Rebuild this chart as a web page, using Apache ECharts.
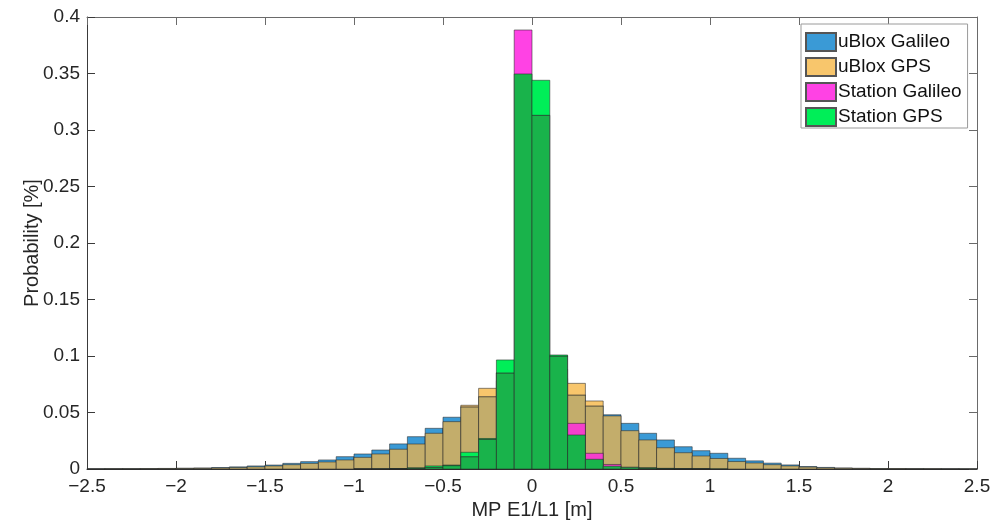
<!DOCTYPE html>
<html>
<head>
<meta charset="utf-8">
<script src="https://cdn.jsdelivr.net/npm/echarts@6/dist/echarts.min.js"></script>
<style>
  html, body { margin: 0; padding: 0; background: #ffffff; }
  #chart { width: 1002px; height: 529px; }
</style>
</head>
<body>
<div id="chart"></div>
<script>
// Histogram bins: left edges, width 0.1 m
const binLeft = [
  -2.5, -2.4, -2.3, -2.2, -2.1, -2.0, -1.9, -1.8, -1.7, -1.6,
  -1.5, -1.4, -1.3, -1.2, -1.1, -1.0, -0.9, -0.8, -0.7, -0.6,
  -0.5, -0.4, -0.3, -0.2, -0.1, 0.0, 0.1, 0.2, 0.3, 0.4,
  0.5, 0.6, 0.7, 0.8, 0.9, 1.0, 1.1, 1.2, 1.3, 1.4,
  1.5, 1.6, 1.7, 1.8, 1.9, 2.0, 2.1, 2.2, 2.3, 2.4
];
const binWidth = 0.1;

const seriesNames = ['uBlox Galileo', 'uBlox GPS', 'Station Galileo', 'Station GPS'];

const uBloxGalileo = [
  0.0002, 0.0003, 0.0003, 0.0004, 0.0005, 0.0007, 0.0009, 0.0013, 0.0019, 0.0027,
  0.0035, 0.0050, 0.0065, 0.0080, 0.0109, 0.0133, 0.0168, 0.0222, 0.0286, 0.0360,
  0.0458, 0.0550, 0.0640, 0.0780, 0.0880, 0.0890, 0.0800, 0.0655, 0.0558, 0.0480,
  0.0404, 0.0316, 0.0257, 0.0197, 0.0162, 0.0139, 0.0095, 0.0072, 0.0052, 0.0036,
  0.0022, 0.0014, 0.0009, 0.0006, 0.0004, 0.0003, 0.0003, 0.0002, 0.0002, 0.0001
];
const uBloxGPS = [
  0.0001, 0.0002, 0.0002, 0.0003, 0.0004, 0.0005, 0.0006, 0.0009, 0.0013, 0.0019,
  0.0027, 0.0038, 0.0050, 0.0062, 0.0080, 0.0103, 0.0133, 0.0175, 0.0221, 0.0316,
  0.0419, 0.0564, 0.0714, 0.0850, 0.0950, 0.0950, 0.0880, 0.0758, 0.0602, 0.0470,
  0.0339, 0.0257, 0.0188, 0.0144, 0.0115, 0.0093, 0.0066, 0.0053, 0.0038, 0.0027,
  0.0017, 0.0010, 0.0007, 0.0005, 0.0003, 0.0003, 0.0002, 0.0002, 0.0001, 0.0001
];
const stationGalileo = [
  0, 0, 0, 0, 0, 0, 0, 0, 0, 0,
  0, 0, 0, 0, 0, 0.0001, 0.0002, 0.0003, 0.0006, 0.0015,
  0.0030, 0.0109, 0.0262, 0.0850, 0.3885, 0.3130, 0.1000, 0.0404, 0.0139, 0.0040,
  0.0015, 0.0007, 0.0004, 0.0002, 0.0001, 0, 0, 0, 0, 0,
  0, 0, 0, 0, 0, 0, 0, 0, 0, 0
];
const stationGPS = [
  0, 0, 0, 0, 0, 0, 0, 0, 0, 0,
  0, 0, 0, 0, 0, 0.0001, 0.0002, 0.0004, 0.0010, 0.0027,
  0.0035, 0.0148, 0.0270, 0.0965, 0.3496, 0.3440, 0.1009, 0.0301, 0.0086, 0.0025,
  0.0015, 0.0010, 0.0006, 0.0003, 0.0002, 0.0001, 0, 0, 0, 0,
  0, 0, 0, 0, 0, 0, 0, 0, 0, 0
];

const xTicks = [-2.5, -2, -1.5, -1, -0.5, 0, 0.5, 1, 1.5, 2, 2.5];
const yTicks = [0, 0.05, 0.1, 0.15, 0.2, 0.25, 0.3, 0.35, 0.4];

const allValues = [uBloxGalileo, uBloxGPS, stationGalileo, stationGPS];

// Translucent-looking fills: colour where the bar stands alone, and where it lies over earlier bars
const ownColor  = ['#3a9ad6', '#f8c66c', '#ff42e4', '#00ee58'];
const overColor = ['#3a9ad6', '#c3ad6b', '#f53fcc', '#19b34b'];
const coveredBy = [[], [0], [0, 1], [2]];
const edgeColor = 'rgba(40,40,40,0.55)';
const axisColor = '#3a3a3a';
const textColor = '#262626';
const fontFamily = '"Liberation Sans", Arial, Helvetica, sans-serif';

function makeRenderer(s) {
  return function (params, api) {
    const i = params.dataIndex;
    const x0 = api.value(0), x1 = api.value(1), v = api.value(2);
    if (!(v > 0)) return null;
    let cover = 0;
    coveredBy[s].forEach(function (j) { cover = Math.max(cover, allValues[j][i]); });
    const split = Math.min(v, cover);
    const base = api.coord([x0, 0]);
    const right = api.coord([x1, 0])[0];
    const top = api.coord([x0, v])[1];
    const mid = api.coord([x0, split])[1];
    const w = right - base[0];
    const children = [];
    if (split > 0) {
      children.push({
        type: 'rect',
        shape: { x: base[0], y: mid, width: w, height: base[1] - mid },
        style: { fill: overColor[s], stroke: edgeColor, lineWidth: 1 }
      });
    }
    if (v > split) {
      children.push({
        type: 'rect',
        shape: { x: base[0], y: top, width: w, height: mid - top },
        style: { fill: ownColor[s], stroke: edgeColor, lineWidth: 1 }
      });
    }
    return { type: 'group', children: children };
  };
}

function xLabel(v) {
  return v < 0 ? '\u2212' + String(Math.abs(v)) : String(v);
}

const series = allValues.map(function (vals, s) {
  return {
    name: seriesNames[s],
    type: 'custom',
    xAxisIndex: 0,
    yAxisIndex: 0,
    renderItem: makeRenderer(s),
    itemStyle: { color: ownColor[s], borderColor: '#555555', borderWidth: 1 },
    encode: { x: [0, 1], y: 2 },
    data: binLeft.map(function (x0, i) { return [x0, x0 + binWidth, vals[i]]; }),
    z: 2 + s
  };
});

const chart = echarts.init(document.getElementById('chart'), null, { renderer: 'canvas' });

const axisCommon = {
  min: xTicks[0],
  max: xTicks[xTicks.length - 1],
  interval: 0.5
};

chart.setOption({
  backgroundColor: '#ffffff',
  animation: false,
  grid: { left: 87, right: 25, top: 17, bottom: 60, containLabel: false },
  legend: {
    orient: 'vertical',
    left: 801,
    top: 24,
    data: seriesNames,
    icon: 'rect',
    itemWidth: 30,
    itemHeight: 18,
    itemGap: 5,
    padding: [8, 6, 1, 4],
    backgroundColor: '#ffffff',
    borderColor: '#9a9a9a',
    borderWidth: 1,
    borderRadius: 0,
    selectedMode: false,
    textStyle: { fontSize: 19, color: '#111111', fontFamily: fontFamily, padding: [0, 0, 0, -3] }
  },
  xAxis: [
    Object.assign({
      type: 'value',
      position: 'bottom',
      name: 'MP E1/L1 [m]',
      nameLocation: 'middle',
      nameGap: 30,
      nameTextStyle: { fontSize: 20, color: textColor, fontFamily: fontFamily },
      axisLine: { show: true, onZero: false, lineStyle: { color: axisColor, width: 1 } },
      axisTick: { show: true, inside: true, length: 8, lineStyle: { color: axisColor } },
      axisLabel: { fontSize: 19, color: textColor, fontFamily: fontFamily, margin: 8, formatter: xLabel },
      splitLine: { show: false }
    }, axisCommon),
    Object.assign({
      type: 'value',
      position: 'top',
      axisLine: { show: true, onZero: false, lineStyle: { color: '#6a6a6a', width: 1 } },
      axisTick: { show: true, inside: true, length: 8, lineStyle: { color: '#6a6a6a' } },
      axisLabel: { show: false },
      splitLine: { show: false }
    }, axisCommon)
  ],
  yAxis: [
    {
      type: 'value',
      position: 'left',
      min: yTicks[0],
      max: yTicks[yTicks.length - 1],
      interval: 0.05,
      name: 'Probability [%]',
      nameLocation: 'middle',
      nameGap: 45,
      nameMoveOverlap: false,
      nameRotate: 90,
      nameTextStyle: { fontSize: 20, color: textColor, fontFamily: fontFamily },
      axisLine: { show: true, onZero: false, lineStyle: { color: axisColor, width: 1 } },
      axisTick: { show: true, inside: true, length: 8, lineStyle: { color: axisColor } },
      axisLabel: { fontSize: 19, color: textColor, fontFamily: fontFamily, margin: 7 },
      splitLine: { show: false }
    },
    {
      type: 'value',
      position: 'right',
      min: yTicks[0],
      max: yTicks[yTicks.length - 1],
      interval: 0.05,
      axisLine: { show: true, onZero: false, lineStyle: { color: '#6a6a6a', width: 1 } },
      axisTick: { show: true, inside: true, length: 8, lineStyle: { color: '#6a6a6a' } },
      axisLabel: { show: false },
      splitLine: { show: false }
    }
  ],
  series: series
});
</script>
</body>
</html>
